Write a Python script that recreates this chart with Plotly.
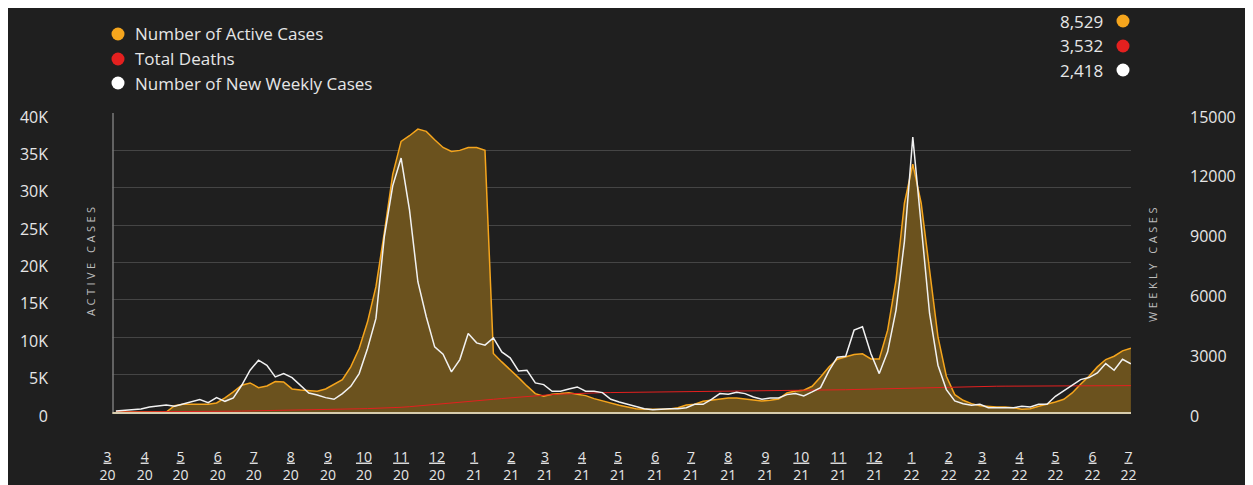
import plotly.graph_objects as go
import pandas as pd

# ---------------- data ----------------
week_start = "2020-03-08"

active_cases = [
    0, 0, 0, 0, 0, 0, 0,
    849, 1028, 1028, 1028, 1028,
    1207, 1877, 2681, 3575, 3888,
    3262, 3486, 4067, 4022, 3084,
    2950, 2860, 2771, 3084, 3665,
    4335, 6033, 8491, 12066, 16759,
    24000, 31800, 36200, 36960, 37850,
    37540, 36420, 35390, 34860, 35000,
    35390, 35390, 35000, 7820, 6700,
    5680, 4600, 3490, 2460, 2100,
    2370, 2460, 2590, 2370, 2190,
    1790, 1475, 1207, 894, 670,
    447, 358, 313, 358, 402,
    581, 938, 1028, 1430, 1564,
    1698, 1877, 1877, 1743, 1564,
    1475, 1564, 1743, 2547, 2815,
    2905, 3441, 4692, 6033, 7060,
    7374, 7687, 7776, 7106, 7106,
    10950, 17650, 27930, 33160, 27930,
    19000, 10060, 4780, 2320, 1564,
    1117, 849, 715, 670, 670,
    581, 358, 447, 760, 1028,
    1341, 1698, 2547, 3709, 4782,
    6033, 7016, 7463, 8178, 8529,
]

total_deaths = [
    0, 2, 5, 9, 14, 20, 27, 35, 44, 54,
    65, 76, 88, 100, 113, 127, 142, 158, 175, 193,
    212, 232, 253, 275, 298, 322, 347, 373, 400, 430,
    455, 480, 510, 560, 630, 710, 800, 890, 980, 1080,
    1200, 1300, 1400, 1500, 1600, 1700, 1800, 1900, 2000, 2100,
    2180, 2260, 2330, 2395, 2450, 2500, 2540, 2565, 2585, 2600,
    2610, 2620, 2630, 2640, 2648, 2655, 2662, 2670, 2680, 2690,
    2700, 2710, 2720, 2732, 2745, 2760, 2775, 2790, 2805, 2820,
    2835, 2850, 2868, 2886, 2905, 2925, 2950, 2980, 3010, 3040,
    3070, 3100, 3130, 3160, 3190, 3220, 3260, 3300, 3340, 3370,
    3390, 3405, 3418, 3430, 3440, 3448, 3455, 3462, 3468, 3474,
    3480, 3485, 3490, 3495, 3500, 3505, 3510, 3515, 3519, 3523,
    3527, 3532,
]

weekly_cases = [
    50, 84, 117, 151, 251, 318, 352, 285, 385, 503,
    620, 469, 721, 536, 704, 1341, 2095, 2598, 2346, 1760,
    1927, 1726, 1341, 955, 855, 721, 637, 922, 1290, 1927,
    3184, 4693, 8799, 11346, 12738, 10140, 6536, 4777, 3268, 2899,
    2011, 2631, 3938, 3469, 3352, 3721, 3017, 2715, 2061, 2095,
    1458, 1374, 1039, 1039, 1156, 1257, 1039, 1039, 972, 637,
    503, 385, 251, 168, 117, 151, 168, 168, 218, 385,
    385, 637, 922, 888, 989, 922, 754, 637, 704, 704,
    872, 922, 804, 1006, 1223, 2061, 2749, 2799, 4106, 4274,
    2933, 1927, 3017, 5112, 8548, 13793, 9469, 4944, 2346, 1123,
    553, 419, 335, 385, 218, 218, 218, 218, 285, 251,
    385, 385, 788, 1056, 1341, 1626, 1726, 1961, 2430, 2095,
    2648, 2418,
]

series_names = ["Number of Active Cases", "Total Deaths", "Number of New Weekly Cases"]

left_ticks = [0, 5000, 10000, 15000, 20000, 25000, 30000, 35000, 40000]
left_tick_labels = ["0", "5K", "10K", "15K", "20K", "25K", "30K", "35K", "40K"]
right_ticks = [0, 3000, 6000, 9000, 12000, 15000]
right_tick_labels = ["0", "3000", "6000", "9000", "12000", "15000"]

month_ticks = pd.date_range("2020-03-01", "2022-07-01", freq="MS")
month_labels = [f"<u>{d.month}</u><br>{d.strftime('%y')}" for d in month_ticks]

left_title = "ACTIVE CASES"
right_title = "WEEKLY CASES"

# ---------------- styling ----------------
BG = "#1f1f1f"
ORANGE = "#f5a51d"
FILL = "#6b521e"
RED = "#e4201f"
WHITE = "#f2f2f2"
TEXT = "#e6e6e6"
FONT = "'Open Sans', Lato, sans-serif"

W, H = 1253, 485
OFF = 8                      # page body margin offset (screen -> figure)
L, R, T, B = 88, 130, 105, 81
PW = W - L - R
PH = H - T - B


def px(sx):
    """screen x -> paper x"""
    return (sx - OFF - L) / PW


def py(sy):
    """screen y -> paper y"""
    return (H - B - (sy - OFF)) / PH


dates = pd.date_range(week_start, periods=len(active_cases), freq="7D")

fig = go.Figure()
fig.add_trace(go.Scatter(
    x=dates, y=active_cases, name=series_names[0], mode="lines",
    line=dict(color=ORANGE, width=1.5), fill="tozeroy", fillcolor=FILL,
    yaxis="y",
))
fig.add_trace(go.Scatter(
    x=dates, y=total_deaths, name=series_names[1], mode="lines",
    line=dict(color=RED, width=1), yaxis="y",
))
fig.add_trace(go.Scatter(
    x=dates, y=weekly_cases, name=series_names[2], mode="lines",
    line=dict(color=WHITE, width=1.5), yaxis="y2",
))

annotations = []
shapes = []

# cover the strip of plot area left of the value axis line
shapes.append(dict(type="rect", xref="paper", yref="paper",
                   x0=px(90), x1=px(112.3), y0=py(418), y1=py(110),
                   fillcolor=BG, line=dict(width=0), layer="above"))
# value axis line
shapes.append(dict(type="line", xref="paper", yref="paper",
                   x0=px(113), x1=px(113), y0=py(412), y1=py(113),
                   line=dict(color="#7a7a7a", width=1.5), layer="above"))

# legend (top-left)
legend_colors = [ORANGE, RED, "#ffffff"]
legend_y = [34, 59, 83]
for name, col, yy in zip(series_names, legend_colors, legend_y):
    shapes.append(dict(
        type="circle", xref="paper", yref="paper",
        xsizemode="pixel", ysizemode="pixel",
        xanchor=px(118), yanchor=py(yy),
        x0=-6.5, x1=6.5, y0=-6.5, y1=6.5,
        fillcolor=col, line=dict(width=0), layer="above",
    ))
    annotations.append(dict(
        text=name, xref="paper", yref="paper", x=px(133), y=py(yy),
        xanchor="left", yanchor="middle", showarrow=False,
        font=dict(size=17, color=TEXT, family=FONT),
    ))

# latest values (top-right)
latest_vals = [active_cases[-1], total_deaths[-1], weekly_cases[-1]]
value_y = [21, 46, 70]
for val, col, yy in zip(latest_vals, legend_colors, value_y):
    shapes.append(dict(
        type="circle", xref="paper", yref="paper",
        xsizemode="pixel", ysizemode="pixel",
        xanchor=px(1123), yanchor=py(yy),
        x0=-6.5, x1=6.5, y0=-6.5, y1=6.5,
        fillcolor=col, line=dict(width=0), layer="above",
    ))
    annotations.append(dict(
        text=f"{val:,}", xref="paper", yref="paper", x=px(1105), y=py(yy),
        xanchor="right", yanchor="middle", showarrow=False,
        font=dict(size=17, color=TEXT, family=FONT),
    ))

# axis titles
annotations.append(dict(
    text=f"<span style='letter-spacing:3.5px'>{left_title}</span>",
    xref="paper", yref="paper", x=px(90), y=py(260), textangle=-90,
    xanchor="center", yanchor="middle", showarrow=False,
    font=dict(size=11, color="#bdbdbd", family=FONT),
))
annotations.append(dict(
    text=f"<span style='letter-spacing:3.5px'>{right_title}</span>",
    xref="paper", yref="paper", x=px(1152), y=py(263), textangle=-90,
    xanchor="center", yanchor="middle", showarrow=False,
    font=dict(size=11, color="#bdbdbd", family=FONT),
))

fig.update_layout(
    width=W, height=H,
    margin=dict(l=L, r=R, t=T, b=B, pad=0),
    paper_bgcolor=BG, plot_bgcolor=BG,
    showlegend=False, hovermode=False,
    font=dict(family=FONT, color=TEXT),
    annotations=annotations, shapes=shapes,
    xaxis=dict(
        type="date", range=["2020-02-20 09:30", "2022-07-03 02:00"],
        tickmode="array", tickvals=month_ticks, ticktext=month_labels,
        tickfont=dict(size=14, color=TEXT), ticks="",
        showgrid=False, zeroline=False, automargin=False,
        showline=True, linecolor="#d6ccae", linewidth=1.5,
        ticklabelstandoff=31,
    ),
    yaxis=dict(
        range=[0, 40000], tickmode="array",
        tickvals=left_ticks, ticktext=left_tick_labels,
        tickfont=dict(size=16, color=TEXT), ticks="",
        showgrid=True, gridcolor="#454545", gridwidth=1,
        zeroline=False, showline=False, automargin=False,
        ticklabelstandoff=47, ticklabelshift=4,
    ),
    yaxis2=dict(
        overlaying="y", side="right", range=[0, 15000], tickmode="array",
        tickvals=right_ticks, ticktext=right_tick_labels,
        tickfont=dict(size=16, color=TEXT), ticks="",
        showgrid=False, zeroline=False, showline=False, automargin=False,
        ticklabelstandoff=58, ticklabelshift=4,
    ),
)

fig.write_html("out.html")
